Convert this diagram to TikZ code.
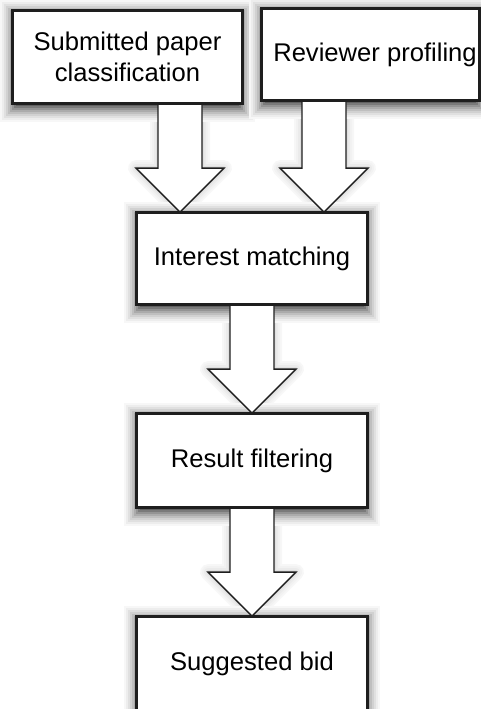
\documentclass[tikz,border=0pt]{standalone}
\usepackage{fontspec}
\setmainfont{Liberation Sans}
\usetikzlibrary{calc}

\definecolor{inkline}{HTML}{1E1E1E}

\pgfdeclarelayer{shadowlayer}
\pgfsetlayers{shadowlayer,main}

\tikzset{
  stagebox/.style={
    draw=inkline, line width=1.8pt, fill=white, inner sep=0pt,
    align=center, font=\fontsize{25.6}{31}\selectfont
  },
  flowarrow/.style={
    draw=inkline, line width=1.3pt, fill=white, line join=miter
  },
  arrowhaze/.style={line join=round}
}

% hollow block arrow outline from coordinate #2 (top) down to coordinate #3 (tip)
\newcommand\hollowarrow[3]{%
  \path[#1]
    ($(#2)+(-22,0)$) -- ($(#3)+(-22,-44)$) -- ($(#3)+(-44,-44)$) --
    (#3) -- ($(#3)+(44,-44)$) -- ($(#3)+(22,-44)$) -- ($(#2)+(22,0)$);
}

% soft shadow under a stage box: nested grey rectangles, light outside, dark inside
\newcommand\boxshade[1]{%
  \foreach \k/\tone in {16/3,14/7,12/12,10/18,8/25,6/33,4/42,2/52,0/62}{
    \fill[black!\tone] ($(#1.north west)+(-\k+4,2-\k+4)$)
      rectangle ($(#1.south east)+(\k-4,\k+2)$);
  }
}

\begin{document}
\begin{tikzpicture}[x=1pt,y=-1pt]
  \useasboundingbox (0,0) rectangle (481,709);

  % processing stages
  \node[stagebox, minimum width=229pt, minimum height=92pt] (paper)
    at (127.5,57) {Submitted paper\\classification};
  \node[stagebox, minimum width=217pt, minimum height=91pt] (profile)
    at (370.5,54.5) {\hspace*{9pt}Reviewer profiling};
  \node[stagebox, minimum width=230pt, minimum height=91pt] (match)
    at (252,258.5) {Interest matching};
  \node[stagebox, minimum width=230pt, minimum height=93pt] (filter)
    at (252,460.5) {Result filtering};
  \node[stagebox, minimum width=230pt, minimum height=93pt] (bid)
    at (252,663.5) {Suggested bid};

  % arrow anchor points
  \coordinate (a1s) at ($(paper.south)+(52.5,0)$);
  \coordinate (a1e) at (match.north -| a1s);
  \coordinate (a2s) at ($(profile.south)+(-46.5,0)$);
  \coordinate (a2e) at (match.north -| a2s);
  \coordinate (a3s) at (match.south);
  \coordinate (a3e) at (filter.north);
  \coordinate (a4s) at (filter.south);
  \coordinate (a4e) at (bid.north);

  % soft shadows behind everything
  \begin{pgfonlayer}{shadowlayer}
    \begin{scope}[yshift=-3pt]
      \foreach \w/\t in {16/3,12/5,8/8,4/12}{
        \foreach \s/\e in {a1s/a1e,a2s/a2e,a3s/a3e,a4s/a4e}{
          \hollowarrow{arrowhaze, draw=black!\t, line width=\w pt}{\s}{\e}
        }
      }
    \end{scope}
    \boxshade{paper}
    \boxshade{profile}
    \boxshade{match}
    \boxshade{filter}
    \boxshade{bid}
  \end{pgfonlayer}

  % connectors
  \hollowarrow{flowarrow}{a1s}{a1e}
  \hollowarrow{flowarrow}{a2s}{a2e}
  \hollowarrow{flowarrow}{a3s}{a3e}
  \hollowarrow{flowarrow}{a4s}{a4e}

  % redraw stage outlines over the arrow ends
  \foreach \n in {paper,profile,match,filter,bid}{
    \draw[draw=inkline, line width=1.8pt] (\n.north west) rectangle (\n.south east);
  }
\end{tikzpicture}
\end{document}
